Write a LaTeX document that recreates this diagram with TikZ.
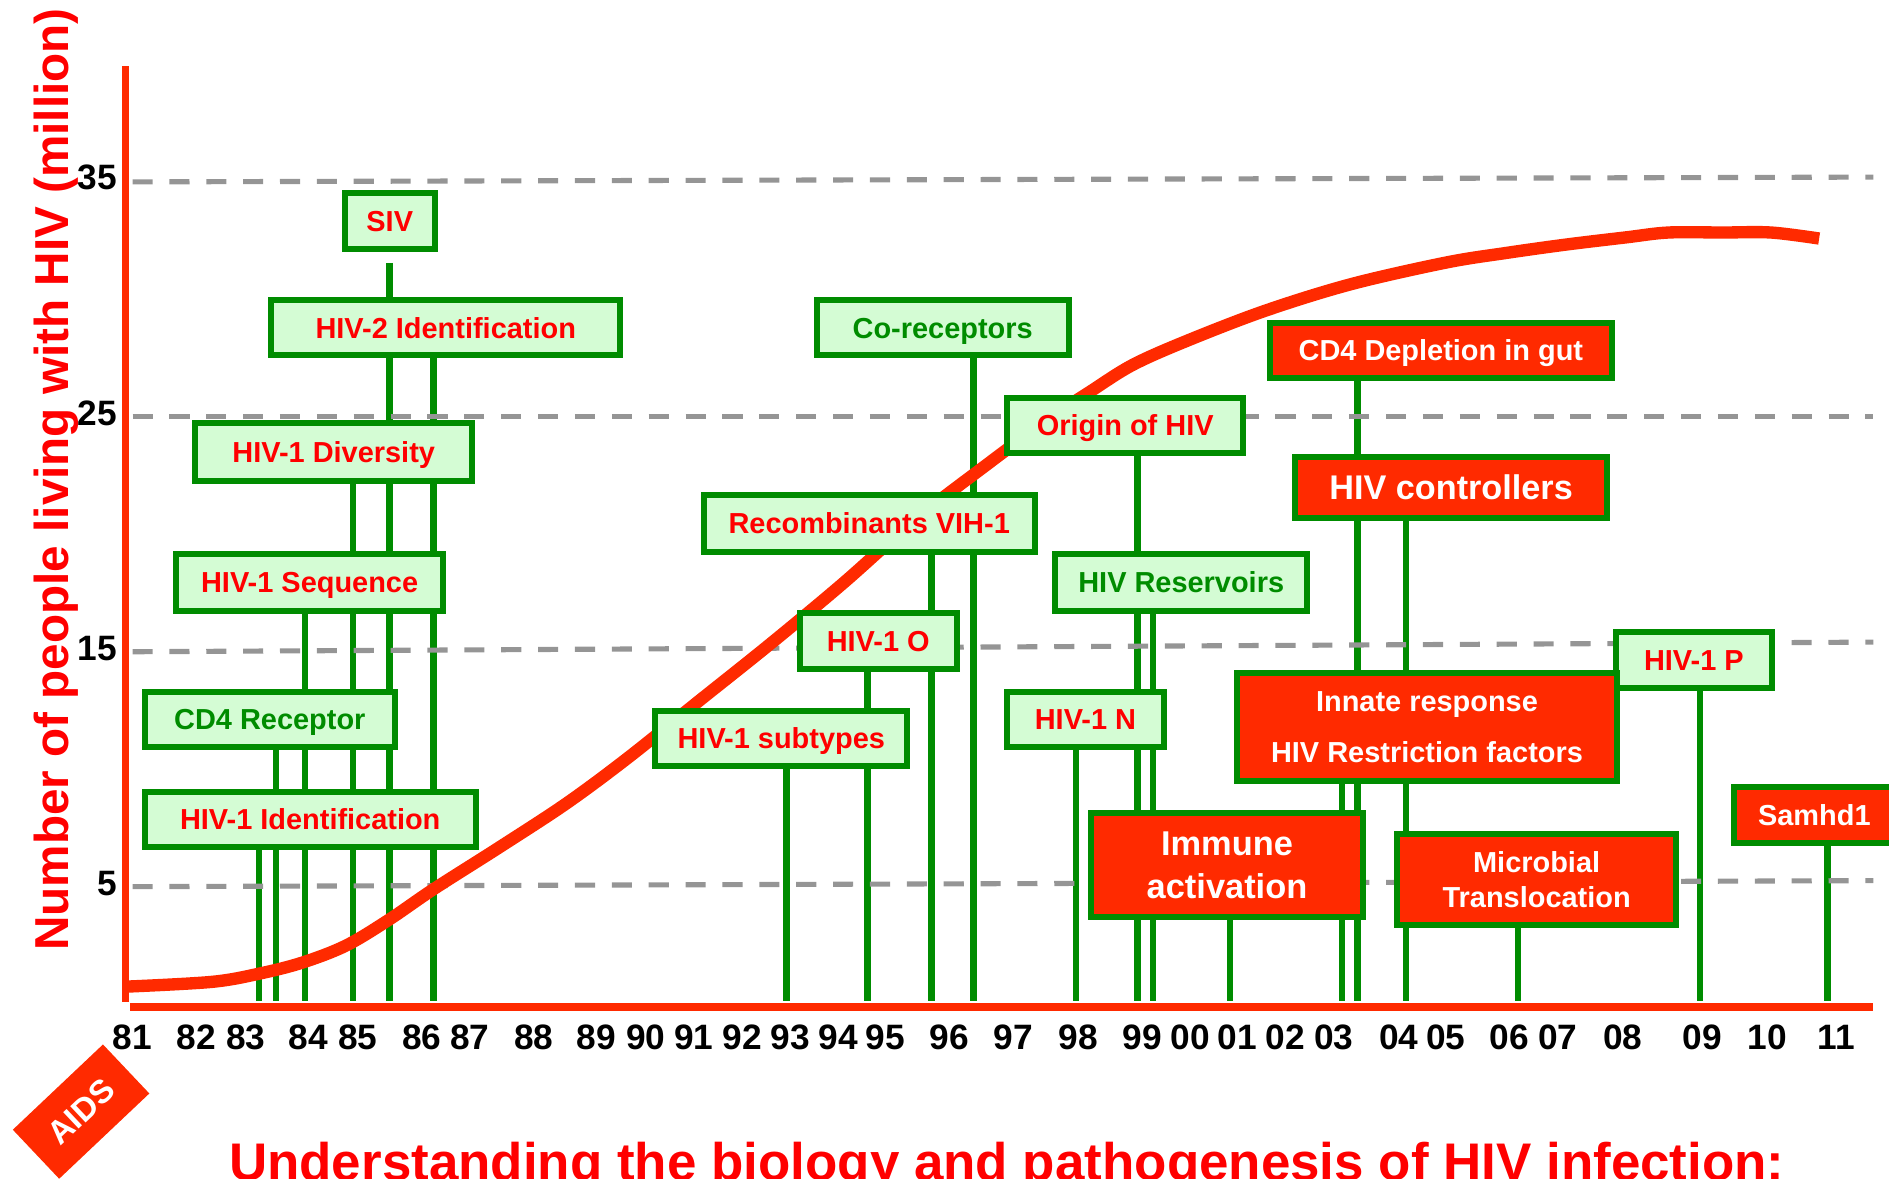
\documentclass[tikz,border=0pt]{standalone}
\usepackage{fontspec}
\setmainfont{Liberation Sans}
\definecolor{hivred}{HTML}{FF2A00}
\definecolor{labred}{HTML}{FF0000}
\definecolor{hivgreen}{HTML}{008C00}
\definecolor{palegreen}{HTML}{D4FCD4}
\definecolor{dashgray}{HTML}{959595}
\pgfdeclarelayer{stemlayer}
\pgfdeclarelayer{dashlayer}
\pgfdeclarelayer{curvelayer}
\pgfsetlayers{stemlayer,dashlayer,curvelayer,main}

\begin{document}
\begin{tikzpicture}[x=0.024cm, y=-0.024cm,
  boxbase/.style={draw=hivgreen, line width=3.4pt, inner sep=0pt, align=center},
  oneline/.style={text height=#1, text depth=0pt},
  lbox/.style={boxbase, fill=palegreen, text=labred, oneline=11.7pt,
    font=\fontsize{16.4}{19.7}\selectfont\bfseries},
  gtxt/.style={text=hivgreen},
  rbox/.style={boxbase, fill=hivred, text=white,
    font=\fontsize{16.4}{19.7}\selectfont\bfseries},
  sz/.style 2 args={minimum width=#1*0.024cm, minimum height=#2*0.024cm},
  stem/.style={hivgreen, line width=3.7pt},
  gridline/.style={dashgray, line width=2.9pt, dash pattern=on 11.4pt off 9.5pt},
  year/.style={font=\fontsize{20}{24}\selectfont\bfseries},
]
\useasboundingbox (0,0) rectangle (1568,978);
\clip (0,0) rectangle (1568,978);
\coordinate (xaxis) at (104,831);
% axes
\draw[hivred, line width=3.8pt] (104,55) -- (104,832);
\draw[hivred, line width=4.3pt] (108,836) -- (1555,836);
\node[rotate=90, text=labred, font=\fontsize{27}{32}\selectfont\bfseries] (ylab) at (47,398)
  {Number of people living with HIV (million)};
\foreach \v/\yy in {35/147, 25/343, 15/538, 5/733}
  \node[year, anchor=east] (tick\v) at (102,\yy) {\v};
\foreach \x/\yr in {110/81, 163/82, 204/83, 256/84, 297/85, 350/86, 390/87, 443/88,
    495/89, 536/90, 576/91, 616/92, 656/93, 696/94, 735/95, 788/96, 841/97, 895/98,
    948/99, 988/00, 1027/01, 1067/02, 1107/03, 1161/04, 1200/05, 1253/06, 1293/07,
    1347/08, 1413/09, 1467/10, 1524/11}
  \node[year] (yr\yr) at (\x,861) {\yr};
% dashed levels
\begin{pgfonlayer}{dashlayer}
\foreach \a/\b in {151/147, 346/346, 541/533, 736/731}
  \draw[gridline] (110,\a) -- (1555,\b);
\end{pgfonlayer}
% people living with HIV
\begin{pgfonlayer}{curvelayer}
\draw[hivred, line width=7pt] plot[smooth, tension=0.55] coordinates {
  (104,819) (176,815) (216,808) (251,799) (287,785) (322,764) (360,738) (415,703)
  (470,667) (520,630) (580,582) (640,534) (700,484) (760,431) (820,385)
  (870,348) (905,325) (940,303) (985,283) (1050,258) (1121,236) (1200,218)
  (1250,210) (1300,203) (1350,197) (1385,193) (1430,193) (1470,193) (1510,198)};
\end{pgfonlayer}
% discoveries (light boxes)
\node[lbox, sz={75}{47}] (siv) at (323.5,183.5) {SIV};
\node[lbox, sz={290}{46}] (hivtwo) at (370,272) {HIV-2 Identification};
\node[lbox, sz={230}{48}] (diversity) at (277,375) {HIV-1 Diversity};
\node[lbox, sz={222}{47}] (sequence) at (257,483.5) {HIV-1 Sequence};
\node[lbox, gtxt, sz={208}{46}] (cdfour) at (224,597) {CD4 Receptor};
\node[lbox, sz={275}{46}] (hivone) at (257.5,680) {HIV-1 Identification};
\node[lbox, gtxt, sz={209}{46}] (coreceptors) at (782.5,272) {Co-receptors};
\node[lbox, sz={196}{46}] (origin) at (934,353) {Origin of HIV};
\node[lbox, sz={275}{47}] (recomb) at (721.5,434.5) {Recombinants VIH-1};
\node[lbox, sz={130}{46}] (hivo) at (729,532) {HIV-1 O};
\node[lbox, sz={209}{46}] (subtypes) at (648.5,613) {HIV-1 subtypes};
\node[lbox, gtxt, sz={209}{47}] (reservoirs) at (980.5,483.5) {HIV Reservoirs};
\node[lbox, sz={130}{46}] (hivn) at (901,597) {HIV-1 N};
\node[lbox, sz={130}{46}] (hivp) at (1406,548) {HIV-1 P};
% pathogenesis (red boxes)
\node[rbox, oneline=11.7pt, sz={284}{46}] (depletion) at (1196,291) {CD4 Depletion in gut};
\node[rbox, oneline=13.9pt, sz={259}{51}, font=\fontsize{19.4}{23}\selectfont\bfseries]
  (controllers) at (1204.5,404.5) {HIV controllers};
\node[rbox, sz={315}{89}, font=\fontsize{16.4}{28.6}\selectfont\bfseries]
  (innate) at (1184.5,603.5) {Innate response\\HIV Restriction factors};
\node[rbox, sz={225}{86}, font=\fontsize{19.5}{24.5}\selectfont\bfseries]
  (immune) at (1018.5,718) {Immune\\activation};
\node[rbox, sz={231}{76}] (microbial) at (1275.5,730) {Microbial\\Translocation};
\node[rbox, oneline=11.7pt, sz={134}{47}] (samhd) at (1506,676.5) {Samhd1};
% stems down to the year axis
\begin{pgfonlayer}{stemlayer}
\draw[stem] ([yshift=-6pt]siv.south) -- (siv.south |- xaxis);
\foreach \x/\b in {360/hivtwo, 293/diversity, 253/sequence, 229/cdfour, 215/hivone,
    808/coreceptors, 773/recomb, 720/hivo, 653/subtypes, 944/origin, 957/reservoirs,
    893/hivn, 1021/immune, 1127/depletion, 1167/controllers, 1114/innate,
    1260/microbial, 1411/hivp, 1517/samhd}
  \draw[stem] (\x,0 |- \b.south) -- (\x,0 |- xaxis);
\end{pgfonlayer}
% AIDS tag and title
\node[fill=hivred, rotate=43.4, sz={103}{56}, text=white, inner sep=0pt,
  font=\fontsize{18.5}{21}\selectfont\bfseries] (aids) at (67.3,922.7) {AIDS};
\node[anchor=base west, text=labred, font=\fontsize{30}{36}\selectfont\bfseries]
  (title) at (185,980) {Understanding the biology and pathogenesis of HIV infection:};
\end{tikzpicture}
\end{document}
